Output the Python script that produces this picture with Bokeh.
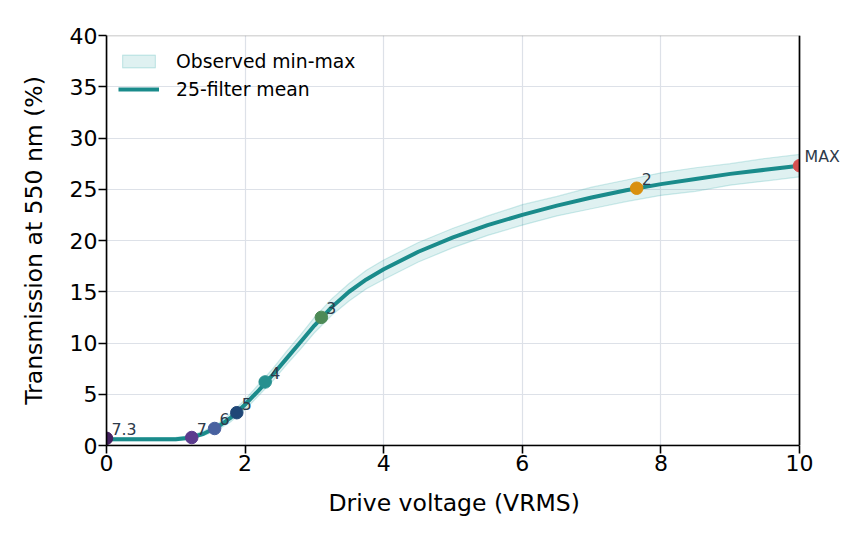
from bokeh.plotting import figure
from bokeh.models import (ColumnDataSource, Label, Legend, LegendItem, FixedTicker, Range1d,
                          BoxAnnotation, Span, Title)
from bokeh.embed import file_html
from bokeh.resources import INLINE

# ---- data ----
volts = [0, 0.5, 1.0, 1.2, 1.4, 1.6, 1.8, 2.0, 2.2, 2.4, 2.6, 2.8, 3.0, 3.25, 3.5, 3.75,
         4.0, 4.5, 5.0, 5.5, 6.0, 6.5, 7.0, 7.5, 8.0, 8.5, 9.0, 9.5, 10.0]
mean_t = [0.6, 0.6, 0.62, 0.75, 1.15, 1.8, 2.75, 4.0, 5.4, 6.9, 8.5, 10.1, 11.7, 13.5, 15.0, 16.2,
          17.2, 18.9, 20.3, 21.5, 22.5, 23.4, 24.2, 24.9, 25.5, 26.0, 26.5, 26.9, 27.3]
min_t = [0.45, 0.45, 0.45, 0.6, 0.95, 1.5, 2.35, 3.5, 4.9, 6.3, 7.9, 9.4, 11.0, 12.7, 14.1, 15.3,
         16.2, 17.9, 19.3, 20.5, 21.5, 22.4, 23.1, 23.8, 24.4, 24.8, 25.4, 25.8, 26.2]
max_t = [0.75, 0.75, 0.8, 0.95, 1.4, 2.1, 3.15, 4.5, 6.0, 7.5, 9.2, 10.8, 12.5, 14.3, 15.8, 17.1,
         18.1, 19.8, 21.2, 22.4, 23.5, 24.3, 25.2, 25.9, 26.6, 27.1, 27.5, 28.0, 28.4]

pt_v = [0.0, 1.23, 1.56, 1.88, 2.29, 3.1, 7.65, 10.0]
pt_t = [0.7, 0.78, 1.66, 3.2, 6.2, 12.5, 25.1, 27.3]
pt_labels = ["7.3", "7", "6", "5", "4", "3", "2", "MAX"]
pt_colors = ["#45215f", "#5b3b8e", "#4861a0", "#1f4777", "#27908f", "#4d8a56", "#d9900f", "#d65252"]

x_ticks = [0, 2, 4, 6, 8, 10]
y_ticks = [0, 5, 10, 15, 20, 25, 30, 35, 40]

FONT = "DejaVu Sans"
TEAL = "#1a8b8b"

X0, X1 = x_ticks[0], x_ticks[-1]
Y0, Y1 = y_ticks[0], y_ticks[-1]
# the frame runs a little past the last tick so the end label has room; the
# visible box is drawn at the data limits.
x_view_end = X1 + (X1 - X0) * 51.0 / 693.0

p = figure(frame_width=744, frame_height=410, output_backend="svg", toolbar_location=None,
           x_range=Range1d(X0, x_view_end), y_range=Range1d(Y0, Y1),
           min_border_left=106, min_border_right=0, min_border_top=35, min_border_bottom=83)

p.background_fill_color = "white"
p.border_fill_color = "white"
p.outline_line_color = None

for ax in (p.xaxis[0], p.yaxis[0]):
    ax.axis_line_color = "black"
    ax.axis_line_width = 1.6
    ax.major_tick_line_color = "black"
    ax.major_tick_line_width = 1.6
    ax.major_tick_out = 8
    ax.major_tick_in = 0
    ax.minor_tick_line_color = None
    ax.major_label_text_font = FONT
    ax.major_label_text_font_size = "22px"
    ax.major_label_text_color = "black"
    ax.axis_label_text_font = FONT
    ax.axis_label_text_font_size = "23.5px"
    ax.axis_label_text_font_style = "normal"
    ax.axis_label_text_color = "black"
    ax.major_label_standoff = 1

p.xaxis.bounds = (X0, X1)
p.xaxis.ticker = FixedTicker(ticks=x_ticks)
p.yaxis.ticker = FixedTicker(ticks=y_ticks)
p.yaxis.axis_label = "Transmission at 550 nm (%)"
p.yaxis.axis_label_standoff = 19

# x-axis title, placed under the 0-10 span of the axis
p.add_layout(Title(text="Drive voltage (VRMS)", align="left", offset=222,
                   text_font=FONT, text_font_size="23.5px", text_font_style="normal",
                   text_color="black", standoff=27), "below")

p.xgrid.grid_line_color = "#dde1e8"
p.ygrid.grid_line_color = "#dde1e8"
p.xgrid.grid_line_width = 1.2
p.ygrid.grid_line_width = 1.2

band_x = volts + volts[::-1]
band_y = max_t + min_t[::-1]
band = p.patch(band_x, band_y, fill_color="#1a9e9e", fill_alpha=0.14,
               line_color="#1a9e9e", line_alpha=0.2, line_width=1.2)
mean_line = p.line(volts, mean_t, line_color=TEAL, line_width=4)

src = ColumnDataSource(dict(x=pt_v, y=pt_t, label=pt_labels, color=pt_colors))
p.scatter("x", "y", source=src, size=12.5, fill_color="color", line_color="color")

# blank out everything right of the data limit, then draw the axes box
p.add_layout(BoxAnnotation(left=X1, fill_color="white", fill_alpha=1.0, line_color=None))
p.add_layout(BoxAnnotation(left=X0, right=X1, bottom=Y0, top=Y1, fill_alpha=0,
                           fill_color=None, line_color="black", line_width=1.6))
p.add_layout(Span(location=X1, dimension="height", line_color="black", line_width=1.6,
                  level="overlay"))

for xv, yv, lab in zip(pt_v, pt_t, pt_labels):
    p.add_layout(Label(x=xv, y=yv, text=lab, x_offset=5, y_offset=9,
                       text_font=FONT, text_font_size="15.8px", text_color="#2d3a4a",
                       text_baseline="alphabetic", text_align="left", level="overlay"))

legend = Legend(items=[LegendItem(label="Observed min-max", renderers=[band]),
                       LegendItem(label="25-filter mean", renderers=[mean_line])],
                location="top_left")
legend.border_line_color = None
legend.background_fill_alpha = 0
legend.label_text_font = FONT
legend.label_text_font_size = "18.8px"
legend.label_text_color = "black"
legend.glyph_width = 41
legend.glyph_height = 16
legend.label_height = 28
legend.label_standoff = 17
legend.spacing = 0
legend.margin = 12
legend.padding = 10
p.add_layout(legend)

open("out.html", "w").write(file_html(p, INLINE))
